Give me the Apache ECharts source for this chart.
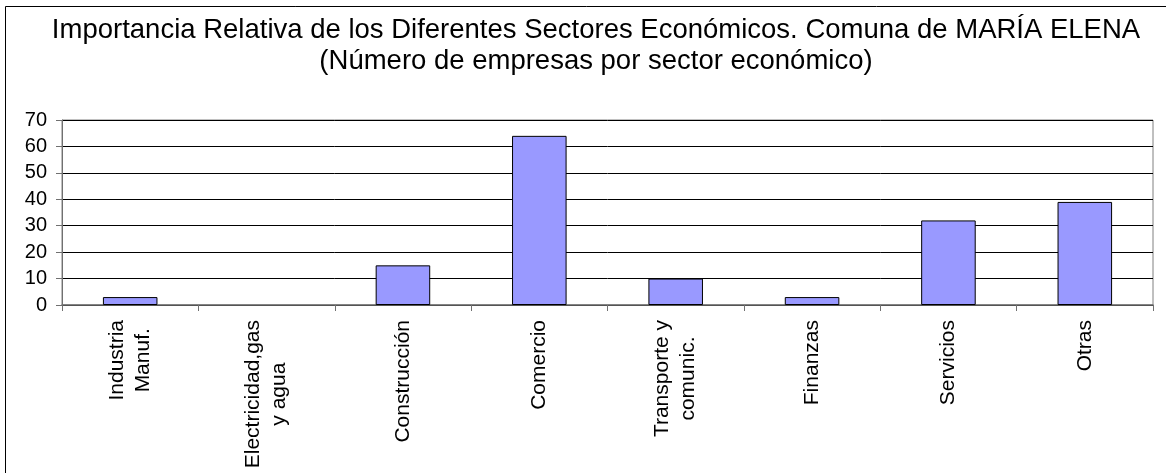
<!DOCTYPE html>
<html>
<head>
<meta charset="utf-8">
<script src="https://cdn.jsdelivr.net/npm/echarts@6/dist/echarts.min.js"></script>
<style>
  html, body { margin: 0; padding: 0; background: #fff; }
  #chart { width: 1166px; height: 473px; }
</style>
</head>
<body>
<div id="chart"></div>
<script>
// Sector names (line breaks as shown on the axis)
const categories = [
  'Industria\nManuf.',
  'Electricidad,gas\ny agua',
  'Construcción',
  'Comercio',
  'Transporte y\ncomunic.',
  'Finanzas',
  'Servicios',
  'Otras'
];
// Number of companies per sector
const companies = [3, 0, 15, 64, 10, 3, 32, 39];
// Value axis ticks
const yMin = 0;
const yMax = 70;
const yStep = 10;

const titleLines = [
  'Importancia Relativa de los Diferentes Sectores Económicos. Comuna de MARÍA ELENA',
  '(Número de empresas por sector económico)'
];

const FONT = '"Liberation Sans", Arial, Helvetica, sans-serif';

// Empty sectors get no outline, so nothing shows on the baseline
const barData = companies.map(function (v) {
  return v === 0 ? { value: v, itemStyle: { borderWidth: 0, opacity: 0 } } : v;
});

const chart = echarts.init(document.getElementById('chart'), null, { renderer: 'canvas' });

chart.setOption({
  backgroundColor: '#ffffff',
  animation: false,
  graphic: [
    {
      type: 'rect',
      silent: true,
      shape: { x: 5.5, y: 6.5, width: 1200, height: 500 },
      style: { fill: 'none', stroke: '#000', lineWidth: 1 }
    },
    {
      type: 'text',
      silent: true,
      style: {
        text: titleLines.join('\n'),
        x: 596,
        y: 46,
        align: 'center',
        verticalAlign: 'middle',
        font: '27.5px ' + FONT,
        lineHeight: 30.5,
        fill: '#000'
      }
    }
  ],
  grid: {
    left: 62,
    right: 13,
    top: 120,
    bottom: 168,
    show: true,
    borderColor: '#808080',
    borderWidth: 1,
    backgroundColor: '#ffffff'
  },
  xAxis: {
    type: 'category',
    data: categories,
    axisLine: { show: true, lineStyle: { color: '#707070', width: 1.5 } },
    axisTick: { show: true, length: 6, alignWithLabel: false, lineStyle: { color: '#707070' } },
    axisLabel: {
      interval: 0,
      rotate: 90,
      margin: 15,
      color: '#000',
      formatter: function (v) {
        return v.split('\n').map(function (s) { return '{c|' + s + '}'; }).join('\n');
      },
      rich: {
        c: {
          align: 'center',
          fontFamily: FONT,
          fontSize: 21,
          lineHeight: 26,
          color: '#000'
        }
      }
    },
    splitLine: { show: false }
  },
  yAxis: {
    type: 'value',
    min: yMin,
    max: yMax,
    interval: yStep,
    axisLine: { show: true, lineStyle: { color: '#707070', width: 1 } },
    axisTick: { show: true, length: 6, lineStyle: { color: '#707070' } },
    axisLabel: {
      margin: 15,
      color: '#000',
      fontFamily: FONT,
      fontSize: 20
    },
    splitLine: { show: true, lineStyle: { color: '#000', width: 1 } }
  },
  series: [
    {
      type: 'bar',
      data: barData,
      barWidth: '40%',
      itemStyle: {
        color: '#9999FF',
        borderColor: '#000',
        borderWidth: 1
      }
    }
  ]
});
</script>
</body>
</html>
